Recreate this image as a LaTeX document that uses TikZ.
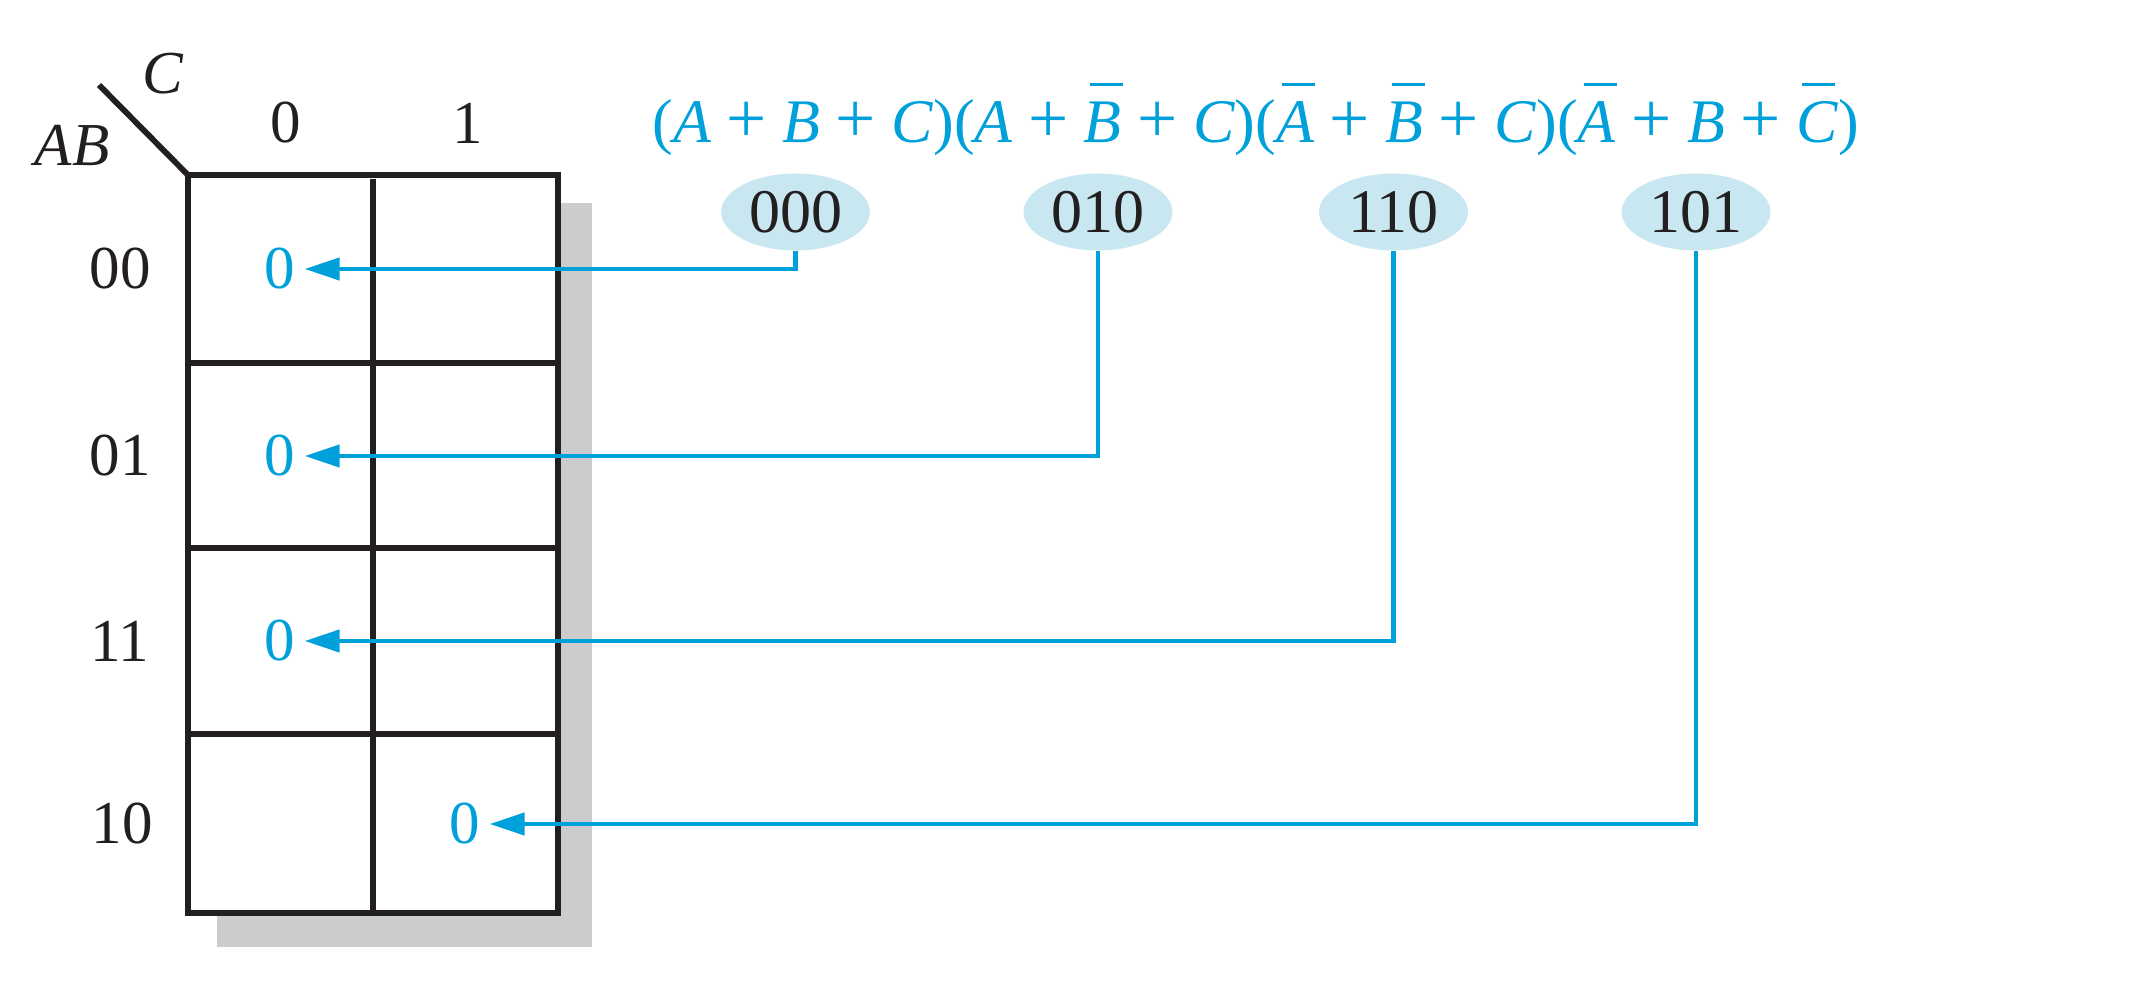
\documentclass[tikz,border=0pt]{standalone}
\usepackage{fontspec}
\usepackage{graphicx}
\setmainfont{Liberation Serif}
\usetikzlibrary{shapes.geometric,arrows.meta}
\definecolor{kblue}{RGB}{0,160,218}
\definecolor{kfill}{RGB}{200,231,241}
\definecolor{kgrid}{RGB}{35,31,32}
\definecolor{kshadow}{RGB}{204,204,204}
\newcommand\nb[1]{\leavevmode\rlap{\hspace{3pt}\raisebox{28.25pt}{\rule{16.5pt}{1.5pt}}}\textit{#1}}
\newcommand\pl{\scalebox{1.15}{+}}
\begin{document}
\begin{tikzpicture}[x=0.5pt,y=-0.5pt,
  lbl/.style={font=\fontsize{30.5}{36}\selectfont, text=kgrid, inner sep=0},
  zero/.style={font=\fontsize{30.5}{36}\selectfont, text=kblue, inner sep=0},
  code/.style={ellipse, fill=kfill, minimum width=74.5pt, minimum height=38.5pt, inner sep=0, font=\fontsize{31}{36}\selectfont, text=kgrid},
  link/.style={draw=kblue, line width=2.25pt, -{Triangle[length=17.5pt,width=11pt]}},
  gridline/.style={draw=kgrid, line width=2.9pt}
]
\useasboundingbox (0,0) rectangle (2134,1000);
% shadow and map
\fill[kshadow] (217,203) rectangle (592,947);
\fill[white] (188,175) rectangle (558,913);
\draw[gridline] (188,175) rectangle (558,913);
\draw[gridline] (188,363) -- (558,363);
\draw[gridline] (188,548) -- (558,548);
\draw[gridline] (188,734) -- (558,734);
\draw[gridline] (373,179) -- (373,913);
\draw[gridline] (99,85) -- (188,175);
% labels
\node[lbl] (C) at (163,74) {\textit{C}};
\node[lbl] (AB) at (72,145) {\textit{AB}};
\node[lbl] (c0) at (286,123) {0};
\node[lbl] (c1) at (468,123) {1};
\node[lbl] (r00) at (120,269) {00};
\node[lbl] (r01) at (120,456) {01};
\node[lbl] (r11) at (120,641) {11};
\node[lbl] (r10) at (122,824) {10};
% zeros
\node[zero] (z1) at (280,269) {0};
\node[zero] (z2) at (280,456) {0};
\node[zero] (z3) at (280,641) {0};
\node[zero] (z4) at (465,824) {0};
% expression
\node[anchor=base west, inner sep=0, text=kblue, font=\fontsize{31}{36}\selectfont] (expr) at (652,143)
  {(\textit{A} \pl{} \textit{B} \pl{} \textit{C})(\textit{A} \pl{} \nb{B} \pl{} \textit{C})(\nb{A} \pl{} \nb{B} \pl{} \textit{C})(\nb{A} \pl{} \textit{B} \pl{} \nb{C})};
% codes
\node[code] (e1) at (795.5,212) {000};
\node[code] (e2) at (1098,212) {010};
\node[code] (e3) at (1393.5,212) {110};
\node[code] (e4) at (1696,212) {101};
% links
\draw[link] (e1.south) |- ([xshift=4.5pt]z1.east);
\draw[link] (e2.south) |- ([xshift=4.5pt]z2.east);
\draw[link] (e3.south) |- ([xshift=4.5pt]z3.east);
\draw[link] (e4.south) |- ([xshift=4.5pt]z4.east);
\end{tikzpicture}
\end{document}
